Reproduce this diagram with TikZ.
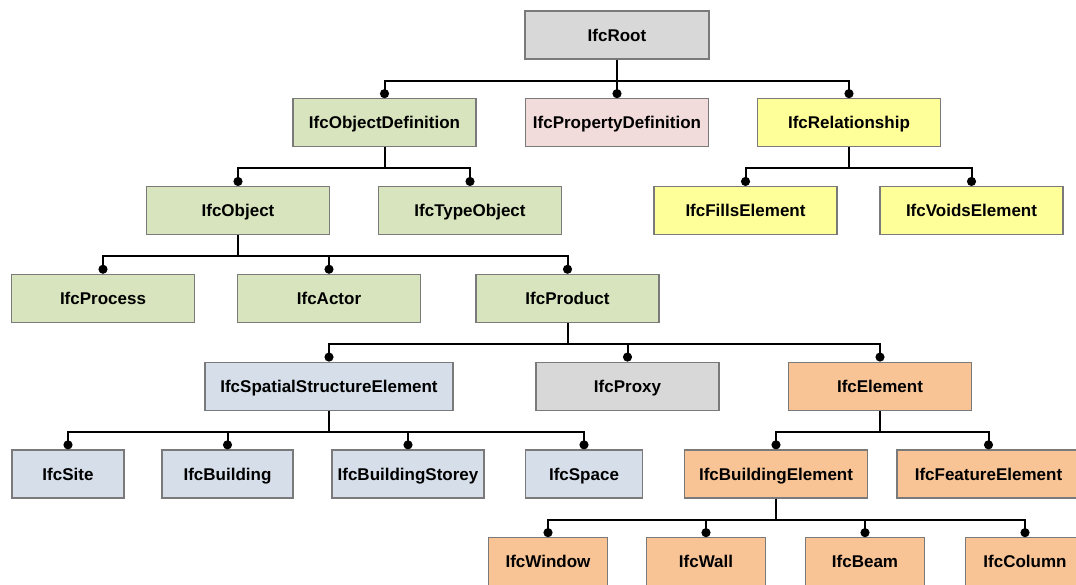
\documentclass[tikz,border=0pt]{standalone}
\usepackage{fontspec}
\setmainfont{Liberation Sans}
\usetikzlibrary{arrows.meta}
\definecolor{cgray}{HTML}{D8D8D8}
\definecolor{cgreen}{HTML}{D7E4BD}
\definecolor{cpink}{HTML}{F2DCDB}
\definecolor{cyellow}{HTML}{FFFF99}
\definecolor{cblue}{HTML}{D5DEE9}
\definecolor{corange}{HTML}{F8C496}
\definecolor{cborder}{HTML}{7A7A7A}
\tikzset{
  ifcbox/.style={draw=cborder, line width=1.3pt, minimum height=48pt, inner sep=0pt,
    text height=12.3pt, text depth=0pt,
    font=\fontsize{17}{20}\selectfont\bfseries, text=black},
  bxgray/.style={ifcbox, fill=cgray},
  bxgreen/.style={ifcbox, fill=cgreen},
  bxpink/.style={ifcbox, fill=cpink},
  bxyellow/.style={ifcbox, fill=cyellow},
  bxblue/.style={ifcbox, fill=cblue},
  bxorange/.style={ifcbox, fill=corange},
  link/.style={line width=2pt, black, -{Circle[length=9pt,width=9pt]}},
}
\newcommand{\conn}[2]{\draw[link] (#1.south) -- ++(0,21) -| (#2.north);}
\begin{document}
\begin{tikzpicture}[x=1pt,y=-1pt]
\useasboundingbox (0,0) rectangle (1076,584);
\clip (0,0) rectangle (1076,584);
\fill[white] (0,0) rectangle (1076,584);
% row 0
\node[bxgray, minimum width=184pt] (root) at (617,35) {IfcRoot};
% row 1
\node[bxgreen, minimum width=183pt] (objdef) at (384.5,122.8) {IfcObjectDefinition};
\node[bxpink, minimum width=183pt] (propdef) at (617,122.8) {IfcPropertyDefinition};
\node[bxyellow, minimum width=183pt] (rel) at (849,122.8) {IfcRelationship};
% row 2
\node[bxgreen, minimum width=183pt] (obj) at (238,210.6) {IfcObject};
\node[bxgreen, minimum width=183pt] (typeobj) at (470,210.6) {IfcTypeObject};
\node[bxyellow, minimum width=183pt] (fills) at (745.5,210.6) {IfcFillsElement};
\node[bxyellow, minimum width=183pt] (voids) at (971.5,210.6) {IfcVoidsElement};
% row 3
\node[bxgreen, minimum width=183pt] (process) at (103,298.4) {IfcProcess};
\node[bxgreen, minimum width=183pt] (actor) at (329,298.4) {IfcActor};
\node[bxgreen, minimum width=183pt] (product) at (567.5,298.4) {IfcProduct};
% row 4
\node[bxblue, minimum width=248pt] (spatial) at (329,386.2) {IfcSpatialStructureElement};
\node[bxgray, minimum width=183pt] (proxy) at (627.5,386.2) {IfcProxy};
\node[bxorange, minimum width=183pt] (element) at (880,386.2) {IfcElement};
% row 5
\node[bxblue, minimum width=112pt] (site) at (68,474) {IfcSite};
\node[bxblue, minimum width=131pt] (building) at (227.5,474) {IfcBuilding};
\node[bxblue, minimum width=152pt] (storey) at (408,474) {IfcBuildingStorey};
\node[bxblue, minimum width=117pt] (space) at (584,474) {IfcSpace};
\node[bxorange, minimum width=183pt] (bldgelem) at (776,474) {IfcBuildingElement};
\node[bxorange, minimum width=183pt] (feature) at (988.5,474) {IfcFeatureElement};
% row 6
\node[bxorange, minimum width=119pt] (window) at (548,561.8) {IfcWindow};
\node[bxorange, minimum width=119pt] (wall) at (706,561.8) {IfcWall};
\node[bxorange, minimum width=119pt] (beam) at (865,561.8) {IfcBeam};
\node[bxorange, minimum width=119pt] (column) at (1025,561.8) {IfcColumn};
% connectors
\conn{root}{objdef}
\conn{root}{propdef}
\conn{root}{rel}
\conn{objdef}{obj}
\conn{objdef}{typeobj}
\conn{rel}{fills}
\conn{rel}{voids}
\conn{obj}{process}
\conn{obj}{actor}
\conn{obj}{product}
\conn{product}{spatial}
\conn{product}{proxy}
\conn{product}{element}
\conn{spatial}{site}
\conn{spatial}{building}
\conn{spatial}{storey}
\conn{spatial}{space}
\conn{element}{bldgelem}
\conn{element}{feature}
\conn{bldgelem}{window}
\conn{bldgelem}{wall}
\conn{bldgelem}{beam}
\conn{bldgelem}{column}
\end{tikzpicture}
\end{document}
